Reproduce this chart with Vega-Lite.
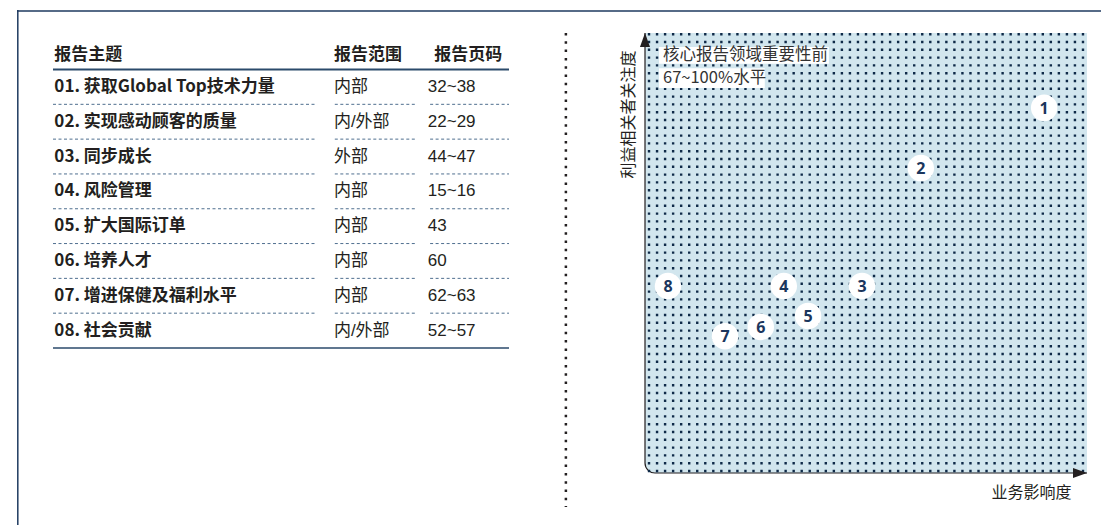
{
  "$schema": "https://vega.github.io/schema/vega-lite/v6.json",
  "width": 1084,
  "height": 515,
  "autosize": {"type": "none"},
  "padding": {"left": 17, "top": 10, "right": 0, "bottom": 0},
  "background": "white",
  "config": {
    "font": "Noto Sans CJK SC",
    "view": {"stroke": null}
  },
  "datasets": {
    "topicRows": [
      {"n": "1", "label": "01. 获取Global Top技术力量", "scope": "内部", "pages": "32~38", "impact": 90.3, "concern": 83.0},
      {"n": "2", "label": "02. 实现感动顾客的质量", "scope": "内/外部", "pages": "22~29", "impact": 62.4, "concern": 69.3},
      {"n": "3", "label": "03. 同步成长", "scope": "外部", "pages": "44~47", "impact": 49.1, "concern": 42.5},
      {"n": "4", "label": "04. 风险管理", "scope": "内部", "pages": "15~16", "impact": 31.4, "concern": 42.5},
      {"n": "5", "label": "05. 扩大国际订单", "scope": "内部", "pages": "43", "impact": 36.9, "concern": 35.7},
      {"n": "6", "label": "06. 培养人才", "scope": "内部", "pages": "60", "impact": 26.2, "concern": 33.2},
      {"n": "7", "label": "07. 增进保健及福利水平", "scope": "内部", "pages": "62~63", "impact": 18.1, "concern": 31.1},
      {"n": "8", "label": "08. 社会贡献", "scope": "内/外部", "pages": "52~57", "impact": 5.2, "concern": 42.5}
    ],
    "headerRow": [{"n": "H", "label": "报告主题", "scope": "报告范围", "pages": "报告页码"}],
    "gridCols": [
      {"c": 0}, {"c": 1}, {"c": 2}, {"c": 3}, {"c": 4}, {"c": 5}, {"c": 6}, {"c": 7}, {"c": 8}, {"c": 9},
      {"c": 10}, {"c": 11}, {"c": 12}, {"c": 13}, {"c": 14}, {"c": 15}, {"c": 16}, {"c": 17}, {"c": 18}, {"c": 19},
      {"c": 20}, {"c": 21}, {"c": 22}, {"c": 23}, {"c": 24}, {"c": 25}, {"c": 26}, {"c": 27}, {"c": 28}, {"c": 29},
      {"c": 30}, {"c": 31}, {"c": 32}, {"c": 33}, {"c": 34}, {"c": 35}, {"c": 36}, {"c": 37}, {"c": 38}, {"c": 39},
      {"c": 40}, {"c": 41}, {"c": 42}, {"c": 43}, {"c": 44}, {"c": 45}, {"c": 46}, {"c": 47}, {"c": 48}, {"c": 49},
      {"c": 50}, {"c": 51}, {"c": 52}, {"c": 53}, {"c": 54}
    ]
  },
  "resolve": {"scale": {"x": "independent", "y": "independent"}},
  "layer": [
    {
      "layer": [
        {
          "data": {"name": "headerRow"},
          "mark": {"type": "text", "align": "left", "baseline": "middle", "fontSize": 17, "fontWeight": "bold", "color": "#231f20", "dy": 3},
          "encoding": {
            "x": {"datum": 0.003, "type": "quantitative", "scale": {"domain": [0, 1], "range": [36, 492], "nice": false, "zero": false}, "axis": null},
            "y": {"field": "n", "type": "ordinal", "scale": {"type": "band", "domain": ["H", "1", "2", "3", "4", "5", "6", "7", "8"], "range": [24.7, 338], "paddingInner": 0, "paddingOuter": 0}, "axis": null},
            "text": {"field": "label", "type": "nominal"}
          }
        },
        {
          "data": {"name": "headerRow"},
          "mark": {"type": "text", "align": "left", "baseline": "middle", "fontSize": 17, "fontWeight": "bold", "color": "#231f20", "dy": 3},
          "encoding": {
            "x": {"datum": 0.616, "type": "quantitative", "axis": null},
            "y": {"field": "n", "type": "ordinal", "axis": null},
            "text": {"field": "scope", "type": "nominal"}
          }
        },
        {
          "data": {"name": "headerRow"},
          "mark": {"type": "text", "align": "left", "baseline": "middle", "fontSize": 17, "fontWeight": "bold", "color": "#231f20", "dy": 3},
          "encoding": {
            "x": {"datum": 0.836, "type": "quantitative", "axis": null},
            "y": {"field": "n", "type": "ordinal", "axis": null},
            "text": {"field": "pages", "type": "nominal"}
          }
        },
        {
          "data": {"name": "topicRows"},
          "mark": {"type": "text", "align": "left", "baseline": "middle", "fontSize": 17, "fontWeight": "bold", "color": "#231f20"},
          "encoding": {
            "x": {"datum": 0.003, "type": "quantitative", "axis": null},
            "y": {"field": "n", "type": "ordinal", "axis": null},
            "text": {"field": "label", "type": "nominal"}
          }
        },
        {
          "data": {"name": "topicRows"},
          "mark": {"type": "text", "align": "left", "baseline": "middle", "fontSize": 17, "font": "Liberation Sans, Noto Sans CJK SC", "color": "#231f20"},
          "encoding": {
            "x": {"datum": 0.616, "type": "quantitative", "axis": null},
            "y": {"field": "n", "type": "ordinal", "axis": null},
            "text": {"field": "scope", "type": "nominal"}
          }
        },
        {
          "data": {"name": "topicRows"},
          "mark": {"type": "text", "align": "left", "baseline": "middle", "fontSize": 17, "font": "Liberation Sans, Noto Sans CJK SC", "color": "#231f20"},
          "encoding": {
            "x": {"datum": 0.822, "type": "quantitative", "axis": null},
            "y": {"field": "n", "type": "ordinal", "axis": null},
            "text": {"field": "pages", "type": "nominal"}
          }
        },
        {
          "data": {"name": "headerRow"},
          "mark": {"type": "rule", "stroke": "#2b4a6b", "strokeWidth": 2, "yOffset": 17.4},
          "encoding": {
            "x": {"datum": 0, "type": "quantitative", "axis": null},
            "x2": {"datum": 1},
            "y": {"field": "n", "type": "ordinal", "axis": null}
          }
        },
        {
          "data": {"name": "topicRows"},
          "transform": [{"filter": "datum.n == '8'"}],
          "mark": {"type": "rule", "stroke": "#2b4a6b", "strokeWidth": 1.5, "yOffset": 17.4},
          "encoding": {
            "x": {"datum": 0, "type": "quantitative", "axis": null},
            "x2": {"datum": 1},
            "y": {"field": "n", "type": "ordinal", "axis": null}
          }
        },
        {
          "data": {"name": "topicRows"},
          "transform": [{"filter": "datum.n != '8'"}],
          "mark": {"type": "rule", "stroke": "#4f6f8f", "strokeWidth": 1, "strokeDash": [3, 2.5], "yOffset": 17.4},
          "encoding": {
            "x": {"datum": 0, "type": "quantitative", "axis": null},
            "x2": {"datum": 0.579},
            "y": {"field": "n", "type": "ordinal", "axis": null}
          }
        },
        {
          "data": {"name": "topicRows"},
          "transform": [{"filter": "datum.n != '8'"}],
          "mark": {"type": "rule", "stroke": "#4f6f8f", "strokeWidth": 1, "strokeDash": [3, 2.5], "yOffset": 17.4},
          "encoding": {
            "x": {"datum": 0.618, "type": "quantitative", "axis": null},
            "x2": {"datum": 0.794},
            "y": {"field": "n", "type": "ordinal", "axis": null}
          }
        },
        {
          "data": {"name": "topicRows"},
          "transform": [{"filter": "datum.n != '8'"}],
          "mark": {"type": "rule", "stroke": "#4f6f8f", "strokeWidth": 1, "strokeDash": [3, 2.5], "yOffset": 17.4},
          "encoding": {
            "x": {"datum": 0.827, "type": "quantitative", "axis": null},
            "x2": {"datum": 1},
            "y": {"field": "n", "type": "ordinal", "axis": null}
          }
        }
      ]
    },
    {
      "layer": [
        {
          "data": {"values": [{"area": "plot"}]},
          "mark": {"type": "rect", "fill": "#d2e6ee", "stroke": "#231f20", "strokeWidth": 1.2, "cornerRadiusBottomLeft": 10, "strokeDash": [0, 882, 880, 0]},
          "encoding": {
            "x": {"datum": -0.5, "type": "quantitative", "scale": {"domain": [-0.5, 54.5], "range": [628, 1070], "nice": false, "zero": false}, "axis": null},
            "x2": {"datum": 54.5},
            "y": {"datum": 0, "type": "quantitative", "scale": {"domain": [0, 100], "range": [463, 23], "nice": false, "zero": false}, "axis": null},
            "y2": {"datum": 100}
          }
        },
        {
          "data": {"name": "gridCols"},
          "mark": {"type": "rule", "stroke": "#0f2a48", "strokeWidth": 2.4, "strokeDash": [2.4, 5.4]},
          "encoding": {
            "x": {"field": "c", "type": "quantitative", "scale": {"nice": false, "zero": false}, "axis": null},
            "y": {"datum": 100, "type": "quantitative", "scale": {"nice": false, "zero": false}, "axis": null},
            "y2": {"datum": 0}
          }
        }
      ]
    },
    {
      "layer": [
        {
          "data": {"name": "topicRows"},
          "mark": {"type": "point", "filled": true, "fill": "white", "opacity": 1, "size": 700, "strokeWidth": 0},
          "encoding": {
            "x": {"field": "impact", "type": "quantitative", "scale": {"domain": [0, 100], "range": [628, 1070], "nice": false, "zero": false},
              "axis": {"orient": "bottom", "title": "业务影响度", "domain": false, "ticks": false, "labels": false, "grid": false,
                "titleX": 1054, "titleY": -33, "titleAlign": "right", "titleBaseline": "middle", "titleFontSize": 16,
                "titleFontWeight": "normal", "titleColor": "#231f20", "titleFont": "Noto Sans CJK SC"}},
            "y": {"field": "concern", "type": "quantitative", "scale": {"domain": [0, 100], "range": [463, 23], "nice": false, "zero": false},
              "axis": {"orient": "left", "title": "利益相关者关注度", "domain": false, "ticks": false, "labels": false, "grid": false,
                "titleX": 611, "titleY": 40, "titleAngle": 270, "titleAlign": "right", "titleBaseline": "middle", "titleFontSize": 16,
                "titleFontWeight": "normal", "titleColor": "#231f20", "titleFont": "Noto Sans CJK SC"}}
          }
        },
        {
          "data": {"name": "topicRows"},
          "mark": {"type": "text", "font": "Open Sans", "fontWeight": "bold", "fontSize": 16, "color": "#1b365d", "baseline": "middle", "align": "center", "dy": 1},
          "encoding": {
            "x": {"field": "impact", "type": "quantitative", "scale": {"nice": false, "zero": false}},
            "y": {"field": "concern", "type": "quantitative", "scale": {"nice": false, "zero": false}},
            "text": {"field": "n", "type": "nominal"}
          }
        },
        {
          "data": {"values": [{"note": "box1"}]},
          "mark": {"type": "rect", "fill": "white"},
          "encoding": {
            "x": {"datum": 3.17, "type": "quantitative", "scale": {"nice": false, "zero": false}},
            "x2": {"datum": 41.6},
            "y": {"datum": 96.8, "type": "quantitative", "scale": {"nice": false, "zero": false}},
            "y2": {"datum": 93.0}
          }
        },
        {
          "data": {"values": [{"note": "box2"}]},
          "mark": {"type": "rect", "fill": "white"},
          "encoding": {
            "x": {"datum": 3.17, "type": "quantitative", "scale": {"nice": false, "zero": false}},
            "x2": {"datum": 27.1},
            "y": {"datum": 92.0, "type": "quantitative", "scale": {"nice": false, "zero": false}},
            "y2": {"datum": 87.5}
          }
        },
        {
          "data": {"values": [{"line": "核心报告领域重要性前"}]},
          "mark": {"type": "text", "align": "left", "baseline": "middle", "fontSize": 16.5, "color": "#333333"},
          "encoding": {
            "x": {"datum": 4.07, "type": "quantitative", "scale": {"nice": false, "zero": false}},
            "y": {"datum": 94.9, "type": "quantitative", "scale": {"nice": false, "zero": false}},
            "text": {"field": "line", "type": "nominal"}
          }
        },
        {
          "data": {"values": [{"line": "67~100%水平"}]},
          "mark": {"type": "text", "align": "left", "baseline": "middle", "fontSize": 16.5, "color": "#333333"},
          "encoding": {
            "x": {"datum": 4.07, "type": "quantitative", "scale": {"nice": false, "zero": false}},
            "y": {"datum": 89.8, "type": "quantitative", "scale": {"nice": false, "zero": false}},
            "text": {"field": "line", "type": "nominal"}
          }
        },
        {
          "data": {"values": [{"arrow": "up"}]},
          "mark": {"type": "point", "shape": "M0,0L-0.36,1L0.36,1Z", "filled": true, "fill": "#231f20", "opacity": 1, "size": 784, "strokeWidth": 0},
          "encoding": {
            "x": {"datum": 0, "type": "quantitative", "scale": {"nice": false, "zero": false}},
            "y": {"datum": 100, "type": "quantitative", "scale": {"nice": false, "zero": false}}
          }
        },
        {
          "data": {"values": [{"arrow": "right"}]},
          "mark": {"type": "point", "shape": "M0,0L-1,-0.36L-1,0.36Z", "filled": true, "fill": "#231f20", "opacity": 1, "size": 784, "strokeWidth": 0},
          "encoding": {
            "x": {"datum": 100, "type": "quantitative", "scale": {"nice": false, "zero": false}},
            "y": {"datum": 0, "type": "quantitative", "scale": {"nice": false, "zero": false}}
          }
        },
        {
          "data": {"values": [{"divider": "left|right"}]},
          "mark": {"type": "rule", "stroke": "#231f20", "strokeWidth": 2.5, "strokeDash": [2.5, 5.8]},
          "encoding": {
            "x": {"datum": -17.9, "type": "quantitative", "scale": {"nice": false, "zero": false}},
            "y": {"datum": 100, "type": "quantitative", "scale": {"nice": false, "zero": false}},
            "y2": {"datum": -7.7}
          }
        },
        {
          "data": {"values": [{"frame": "top"}]},
          "mark": {"type": "rule", "stroke": "#1e3a5f", "strokeWidth": 1.5},
          "encoding": {
            "y": {"datum": 105.0, "type": "quantitative", "scale": {"nice": false, "zero": false}}
          }
        },
        {
          "data": {"values": [{"frame": "left"}]},
          "mark": {"type": "rule", "stroke": "#1e3a5f", "strokeWidth": 1.5},
          "encoding": {
            "x": {"datum": -141.9, "type": "quantitative", "scale": {"nice": false, "zero": false}}
          }
        }
      ]
    }
  ]
}
